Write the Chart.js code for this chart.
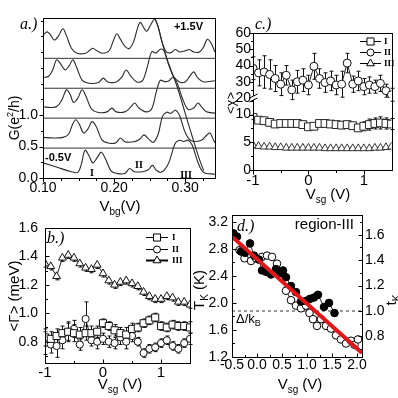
<!DOCTYPE html>
<html>
<head>
<meta charset="utf-8">
<script src="https://cdn.jsdelivr.net/npm/chart.js@4.4.1/dist/chart.umd.min.js"></script>
<style>
html, body { margin: 0; padding: 0; background: #fff; }
#wrap { position: relative; width: 398px; height: 398px; overflow: hidden; }
canvas { position: absolute; left: 0; top: 0; }
</style>
</head>
<body>
<div id="wrap">
  <canvas id="pa" width="398" height="398"></canvas>
  <canvas id="pc" width="398" height="398"></canvas>
  <canvas id="pb" width="398" height="398"></canvas>
  <canvas id="pd" width="398" height="398"></canvas>
</div>
<script>
// ---- panel a : G(Vbg) traces, [Vbg, G] pairs, each trace shifted by its offset
var gOffsets = [0, 0.475, 0.95, 1.425, 1.9];
var gTrace1 = [[0.100,0.24],[0.120,0.17],[0.140,0.10],[0.149,0.09],[0.154,0.22],[0.159,0.44],[0.164,0.37],[0.170,0.24],[0.176,0.32],[0.182,0.41],[0.188,0.30],[0.196,0.11],[0.205,0.07],[0.215,0.07],[0.222,0.15],[0.228,0.10],[0.240,0.10],[0.248,0.13],[0.254,0.20],[0.259,0.13],[0.266,0.09],[0.276,0.22],[0.286,0.55],[0.292,0.60],[0.298,0.58],[0.304,0.60],[0.310,0.52],[0.318,0.25],[0.326,0.09],[0.342,0.06]];
var gTrace2 = [[0.100,0.17],[0.115,0.16],[0.128,0.17],[0.136,0.22],[0.141,0.36],[0.146,0.45],[0.151,0.38],[0.157,0.24],[0.163,0.30],[0.169,0.42],[0.175,0.34],[0.183,0.13],[0.192,0.08],[0.202,0.08],[0.209,0.16],[0.215,0.10],[0.228,0.10],[0.236,0.14],[0.242,0.21],[0.248,0.15],[0.255,0.09],[0.262,0.22],[0.268,0.50],[0.274,0.57],[0.280,0.55],[0.286,0.60],[0.292,0.52],[0.300,0.25],[0.308,0.12],[0.322,0.12],[0.330,0.20],[0.335,0.24],[0.339,0.15],[0.342,0.08]];
var gTrace3 = [[0.100,0.18],[0.112,0.17],[0.120,0.19],[0.127,0.30],[0.133,0.45],[0.138,0.38],[0.143,0.25],[0.149,0.32],[0.155,0.45],[0.160,0.36],[0.168,0.15],[0.178,0.09],[0.190,0.10],[0.197,0.16],[0.203,0.10],[0.215,0.10],[0.223,0.17],[0.229,0.24],[0.235,0.16],[0.245,0.10],[0.253,0.15],[0.259,0.40],[0.265,0.60],[0.271,0.58],[0.277,0.59],[0.283,0.65],[0.289,0.55],[0.296,0.32],[0.304,0.14],[0.312,0.16],[0.318,0.24],[0.323,0.18],[0.330,0.10],[0.342,0.08]];
var gTrace4 = [[0.100,0.17],[0.108,0.19],[0.114,0.30],[0.119,0.45],[0.124,0.40],[0.131,0.29],[0.137,0.36],[0.142,0.45],[0.147,0.34],[0.155,0.13],[0.165,0.08],[0.178,0.09],[0.185,0.16],[0.191,0.10],[0.203,0.10],[0.211,0.18],[0.217,0.29],[0.223,0.20],[0.232,0.10],[0.240,0.12],[0.247,0.35],[0.253,0.58],[0.259,0.56],[0.265,0.62],[0.270,0.60],[0.276,0.40],[0.284,0.18],[0.292,0.10],[0.300,0.10],[0.307,0.20],[0.312,0.26],[0.318,0.16],[0.326,0.10],[0.342,0.12]];
var gTrace5 = [[0.100,0.36],[0.103,0.40],[0.106,0.42],[0.110,0.38],[0.116,0.29],[0.122,0.36],[0.128,0.47],[0.133,0.36],[0.140,0.16],[0.148,0.08],[0.160,0.08],[0.166,0.13],[0.170,0.16],[0.176,0.12],[0.184,0.08],[0.193,0.12],[0.199,0.28],[0.204,0.39],[0.209,0.30],[0.216,0.18],[0.222,0.16],[0.228,0.28],[0.233,0.48],[0.237,0.57],[0.242,0.48],[0.246,0.43],[0.251,0.52],[0.257,0.62],[0.262,0.50],[0.268,0.24],[0.274,0.10],[0.280,0.09],[0.286,0.14],[0.292,0.10],[0.300,0.12],[0.306,0.14],[0.312,0.10],[0.320,0.10],[0.326,0.18],[0.331,0.30],[0.336,0.25],[0.342,0.10]];
// steep falling tail running down through the stack (plotted value, no offset)
var gTail = [[0.258,2.52],[0.262,2.40],[0.268,2.14],[0.275,1.87],[0.289,1.44],[0.300,1.03],[0.311,0.62],[0.320,0.30],[0.326,0.12]];
var aXLabels = [0.10, 0.20, 0.30];
var aYLabels = [0.0, 0.5, 1.0];

// ---- panels b and c : side gate sweep
var vsg = [-1.0,-0.9,-0.8,-0.7,-0.6,-0.5,-0.4,-0.3,-0.2,-0.1,0.0,0.1,0.2,0.3,0.4,0.5,0.6,0.7,0.8,0.9,1.0,1.1,1.2,1.3,1.4,1.5];
var gammaI   = [0.83,0.82,0.84,0.86,0.87,0.86,0.85,0.86,0.86,0.87,0.93,0.91,0.88,0.86,0.85,0.89,0.90,0.93,0.95,0.97,0.91,0.90,0.92,0.91,0.91,0.90];
var gammaII  = [0.79,0.78,0.77,0.81,0.87,0.89,0.78,0.96,0.81,0.80,0.82,0.80,0.79,0.83,0.80,0.84,0.80,0.72,0.75,0.76,0.79,0.81,0.77,0.75,0.79,0.82];
var gammaIII = [1.35,1.33,1.26,1.39,1.41,1.39,1.35,1.32,1.31,1.34,1.28,1.23,1.20,1.22,1.23,1.21,1.19,1.15,1.12,1.10,1.10,1.12,1.11,1.08,1.08,1.06];
var gammaErrI   = [0.06,0.05,0.05,0.05,0.06,0.06,0.05,0.05,0.05,0.04,0.03,0.03,0.04,0.04,0.05,0.04,0.03,0.03,0.03,0.03,0.03,0.03,0.03,0.03,0.03,0.04];
var gammaErrII  = [0.08,0.06,0.08,0.06,0.07,0.06,0.04,0.12,0.04,0.05,0.04,0.04,0.04,0.05,0.05,0.04,0.03,0.03,0.03,0.03,0.03,0.03,0.03,0.03,0.03,0.04];
var gammaErrIII = [0.025,0.025,0.025,0.025,0.025,0.025,0.025,0.025,0.025,0.025,0.025,0.025,0.025,0.025,0.025,0.025,0.025,0.025,0.025,0.025,0.025,0.025,0.025,0.025,0.025,0.025];
var chiI   = [9.5,9.0,8.9,8.6,8.3,8.4,8.4,8.4,8.4,8.2,7.8,7.9,8.4,8.4,8.3,8.2,8.1,8.2,8.0,7.6,7.9,8.2,8.4,8.5,8.4,8.3];
var chiII  = [38.3,35.5,36,34.5,32,28.5,34,25,30,31,28,39.5,32,29.5,30.5,28,28.5,41.5,28.5,30.5,27,28,27,29,24.5,22];
var chiIII = [4.5,4.3,4.2,4.2,4.1,4.1,4.0,4.0,4.0,4.0,4.0,4.0,4.0,3.9,3.9,3.9,3.9,3.9,3.9,3.9,3.9,3.9,4.0,4.0,4.1,4.2];
var chiErrI  = [0.4,0.3,0.3,0.3,0.3,0.3,0.3,0.3,0.3,0.3,0.3,0.3,0.3,0.3,0.3,0.3,0.3,0.3,0.4,0.5,0.8,1.0,1.0,1.1,1.0,1.0];
var chiErrII = [7,8,10,9,8,7,6,6,7,7,6,8,6,6,6,6,8,6,5,6,5,5,4,5,4,4];

// ---- panel d : region III Kondo temperature
var deltaKB = 1.88;
var tkFilledX = [-0.47,-0.40,-0.32,-0.24,-0.14,-0.06,0.04,0.10,0.18,0.28,0.38,0.46,0.52,0.58,0.68,0.78,0.88,0.98,1.06,1.14,1.22,1.34,1.44,1.55];
var tkFilledY = [3.03,2.98,2.76,2.74,2.88,2.70,2.64,2.48,2.46,2.42,2.50,2.44,2.48,2.38,2.25,2.16,2.02,2.03,2.06,2.08,2.12,1.94,2.00,1.85];
var tkOpenX = [-0.35,-0.25,-0.12,-0.02,0.10,0.20,0.30,0.40,0.50,0.58,0.68,0.78,0.88,0.98,1.05,1.12,1.20,1.28,1.38,1.48,1.58,1.68,1.78,1.88,1.95,2.02];
var tkOpenY = [2.78,2.66,2.62,2.66,2.68,2.70,2.68,2.58,2.44,2.18,2.04,1.96,1.92,1.96,1.85,1.76,1.66,1.76,1.66,1.62,1.52,1.46,1.40,1.44,1.38,1.46];
var tkFitX = [-0.5, 2.1];
var tkFitY = [2.98, 1.26];

// ---------------------------------------------------------------
Chart.defaults.font.family = 'Liberation Sans';
Chart.defaults.color = '#000';

var AXW = 30, AXH = 20;
function place(l, t, r, b, rightAxis) {
  return { left: l - AXW, top: t, right: 398 - r - (rightAxis ? AXW : 0), bottom: 398 - b - AXH };
}
function fix(s) { if (s.isHorizontal()) s.height = AXH; else s.width = AXW; }
function near(list, v) { return list.some(function (l) { return Math.abs(l - v) < 1e-6; }); }

function axis(min, max, step, labels, digits, size, pad, extra) {
  var a = {
    type: 'linear', min: min, max: max,
    ticks: {
      stepSize: step, autoSkip: false, maxRotation: 0, padding: pad, maxTicksLimit: 1000,
      includeBounds: false,
      font: { size: size }, color: '#000',
      callback: function (v) { return near(labels, v) ? v.toFixed(digits) : ''; }
    },
    grid: { display: false, drawTicks: false },
    border: { display: false },
    afterFit: fix
  };
  return Object.assign(a, extra || {});
}

function pairs(xs, ys) { return xs.map(function (x, i) { return { x: x, y: ys[i] }; }); }

function marker(ctx, style, x, y, r) {
  ctx.beginPath();
  if (style === 'rect') { var s = r * Math.SQRT1_2; ctx.rect(x - s, y - s, 2 * s, 2 * s); }
  else if (style === 'triangle') {
    ctx.moveTo(x, y - r); ctx.lineTo(x + r * 0.866, y + r * 0.5); ctx.lineTo(x - r * 0.866, y + r * 0.5); ctx.closePath();
  } else ctx.arc(x, y, r, 0, Math.PI * 2);
  ctx.fill(); ctx.stroke();
}

function drawText(ctx, t) {
  ctx.save();
  ctx.translate(t.x, t.y);
  if (t.rot) ctx.rotate(t.rot * Math.PI / 180);
  ctx.fillStyle = '#000';
  ctx.textBaseline = 'alphabetic';
  ctx.textAlign = 'left';
  var fam = t.family || 'Liberation Sans';
  var f = function (p) { return (t.style || 'normal') + ' ' + (t.weight || 'normal') + ' ' + p[1] + 'px "' + fam + '"'; };
  var w = 0;
  t.parts.forEach(function (p) { ctx.font = f(p); w += ctx.measureText(p[0]).width; });
  var x = t.align === 'left' ? 0 : (t.align === 'right' ? -w : -w / 2);
  t.parts.forEach(function (p) { ctx.font = f(p); ctx.fillText(p[0], x, p[2] || 0); x += ctx.measureText(p[0]).width; });
  ctx.restore();
}

// frame, ticks, error bars, legends and labels
var framePlugin = {
  id: 'frame',
  beforeDatasetsDraw: function (chart) {
    var ctx = chart.ctx;
    chart.data.datasets.forEach(function (ds, i) {
      if (!ds.errs) return;
      var meta = chart.getDatasetMeta(i);
      var ys = chart.scales[meta.yAxisID];
      ctx.save();
      ctx.strokeStyle = '#111'; ctx.lineWidth = 1;
      meta.data.forEach(function (pt, j) {
        var v = ds.data[j].y, e = ds.errs[j];
        var top = ys.getPixelForValue(ds.errDown ? v : v + e);
        var bot = ys.getPixelForValue(v - e);
        var px = Math.round(pt.x) + 0.5;
        ctx.beginPath();
        ctx.moveTo(px, top); ctx.lineTo(px, bot);
        if (!ds.errDown) { ctx.moveTo(px - 2, top); ctx.lineTo(px + 2, top); }
        ctx.moveTo(px - 2, bot); ctx.lineTo(px + 2, bot);
        ctx.stroke();
      });
      ctx.restore();
    });
  },
  afterDraw: function (chart, args, o) {
    var ctx = chart.ctx, ca = chart.chartArea;
    ctx.save();
    ctx.strokeStyle = '#000'; ctx.lineWidth = 1;
    ctx.strokeRect(Math.round(ca.left) + 0.5, Math.round(ca.top) + 0.5, Math.round(ca.right - ca.left), Math.round(ca.bottom - ca.top));
    // tick marks
    Object.keys(chart.scales).forEach(function (id) {
      var s = chart.scales[id];
      s.ticks.forEach(function (t) {
        var major = t.label !== '';
        if (!major && (Math.abs(t.value - s.min) < 1e-9 || Math.abs(t.value - s.max) < 1e-9)) return;
        var len = major ? 4 : 2.5;
        var p = Math.round(s.getPixelForValue(t.value)) + 0.5;
        ctx.beginPath();
        if (s.isHorizontal()) {
          var y0 = Math.round(ca.bottom) + 0.5;
          ctx.moveTo(p, y0); ctx.lineTo(p, y0 + (o.inward ? -len : len));
        } else if (s.position === 'left') {
          var x0 = Math.round(ca.left) + 0.5;
          ctx.moveTo(x0, p); ctx.lineTo(x0 + (o.inward ? len : -len), p);
        } else {
          var x1 = Math.round(ca.right) + 0.5;
          ctx.moveTo(x1, p); ctx.lineTo(x1 + (o.inward ? -len : len), p);
        }
        ctx.stroke();
      });
    });
    // axis break
    if (o.breakAxis) {
      var yb = Math.round(chart.scales[o.breakAxis].bottom);
      var xl = Math.round(ca.left) + 0.5;
      ctx.fillStyle = '#fff';
      ctx.fillRect(xl - 3, yb - 2, 6, 4);
      ctx.beginPath();
      ctx.moveTo(xl - 4, yb); ctx.lineTo(xl + 4, yb - 4);
      ctx.moveTo(xl - 4, yb + 4); ctx.lineTo(xl + 4, yb);
      ctx.stroke();
    }
    // legend
    if (o.legend) {
      var lg = o.legend;
      lg.rows.forEach(function (r) {
        ctx.strokeStyle = '#000'; ctx.lineWidth = r.lw || 1;
        ctx.beginPath(); ctx.moveTo(lg.x1, r.y + 0.5); ctx.lineTo(lg.x2, r.y + 0.5); ctx.stroke();
        ctx.lineWidth = 1; ctx.fillStyle = '#fff';
        marker(ctx, r.style, (lg.x1 + lg.x2) / 2, r.y + 0.5, r.r);
        ctx.fillStyle = '#000';
        ctx.font = lg.font; ctx.textBaseline = 'middle'; ctx.textAlign = 'left';
        ctx.fillText(r.label, lg.labelX, r.y + 1);
      });
    }
    ctx.restore();
    (o.texts || []).forEach(function (t) { drawText(ctx, t); });
  }
};

function lineSet(data, extra) {
  return Object.assign({
    data: data, borderColor: '#222', backgroundColor: '#fff', borderWidth: 1,
    pointRadius: 0, tension: 0, fill: false
  }, extra || {});
}

function makeChart(id, sets, padding, scales, frame) {
  return new Chart(document.getElementById(id), {
    type: 'line',
    data: { datasets: sets },
    options: {
      responsive: false, animation: false, devicePixelRatio: 1, events: [],
      layout: { padding: padding },
      scales: scales,
      plugins: { legend: { display: false }, tooltip: { enabled: false }, frame: frame }
    },
    plugins: [framePlugin]
  });
}

// ---------------- panel a
(function () {
  var traces = [gTrace1, gTrace2, gTrace3, gTrace4, gTrace5];
  var sets = [];
  traces.forEach(function (tr, k) {
    sets.push(lineSet(tr.map(function (p) { return { x: p[0], y: p[1] + gOffsets[k] }; }),
      { borderColor: '#2a2a2a', borderWidth: 1.1, tension: 0.35 }));
  });
  sets.push(lineSet(gTail.map(function (p) { return { x: p[0], y: p[1] }; }), { borderColor: '#2a2a2a', borderWidth: 1.1, tension: 0.3 }));
  gOffsets.slice(1).forEach(function (off) {
    sets.push(lineSet([{ x: 0.10, y: off }, { x: 0.342, y: off }], { borderColor: '#333', borderWidth: 1 }));
  });
  makeChart('pa', sets, place(43, 18, 215, 178), {
    x: axis(0.10, 0.342, 0.025, aXLabels, 2, 14, 2),
    y: axis(0, 2.54, 0.25, aYLabels, 1, 14, 5)
  }, {
    inward: false,
    texts: [
      { x: 20, y: 29, parts: [['a.)', 16]], family: 'Liberation Serif', style: 'italic', align: 'left' },
      { x: 203, y: 30, parts: [['+1.5V', 11]], weight: 'bold', align: 'right' },
      { x: 45, y: 161, parts: [['-0.5V', 11]], weight: 'bold', align: 'left' },
      { x: 92, y: 176, parts: [['I', 10]], family: 'Liberation Serif', weight: 'bold' },
      { x: 139, y: 168, parts: [['II', 10]], family: 'Liberation Serif', weight: 'bold' },
      { x: 186, y: 178, parts: [['III', 10]], family: 'Liberation Serif', weight: 'bold' },
      { x: 120, y: 211, parts: [['V', 15], ['bg', 10, 4], ['(V)', 15]] },
      { x: 19, y: 118, rot: -90, parts: [['G(e', 14], ['2', 9, -6], ['/h)', 14]] }
    ]
  });
})();

// ---------------- panel c
(function () {
  var sets = [
    lineSet(pairs(vsg, chiII), { yAxisID: 'yHigh', pointStyle: 'circle', pointRadius: 4, pointBorderColor: '#111', pointBackgroundColor: '#fff', errs: chiErrII }),
    lineSet(pairs(vsg, chiI), { yAxisID: 'yLow', pointStyle: 'rect', pointRadius: 5.5, pointBorderColor: '#222', pointBackgroundColor: '#fff', errs: chiErrI }),
    lineSet(pairs(vsg, chiIII), { yAxisID: 'yLow', pointStyle: 'triangle', pointRadius: 4.5, pointBorderColor: '#333', pointBackgroundColor: '#fff' })
  ];
  makeChart('pc', sets, place(253, 33, 397, 170), {
    x: axis(-1, 1.5, 0.5, [-1, 0, 1], 0, 15, 2),
    yLow: axis(0, 13, 2.5, [0, 5, 10], 0, 14, 2, { position: 'left', stack: 'chi', stackWeight: 72 }),
    yHigh: axis(20, 60, 5, [20, 30, 40, 50, 60], 0, 14, 2, { position: 'left', stack: 'chi', stackWeight: 65 })
  }, {
    inward: false,
    breakAxis: 'yHigh',
    legend: {
      x1: 360, x2: 381, labelX: 384, font: 'bold 9px "Liberation Serif"',
      rows: [
        { y: 41, label: 'I', style: 'rect', r: 5 },
        { y: 52, label: 'II', style: 'circle', r: 3.5 },
        { y: 63, label: 'III', style: 'triangle', r: 4.5 }
      ]
    },
    texts: [
      { x: 255, y: 29, parts: [['c.)', 16]], family: 'Liberation Serif', style: 'italic', align: 'left' },
      { x: 235, y: 103, rot: -90, parts: [['<\u03c7>', 13]] },
      { x: 328, y: 199, parts: [['V', 15], ['sg', 10, 4], [' (V)', 15]] }
    ]
  });
})();

// ---------------- panel b
(function () {
  var sets = [
    lineSet(pairs(vsg, gammaIII), { pointStyle: 'triangle', pointRadius: 4.5, pointBorderColor: '#111', pointBackgroundColor: '#fff', errs: gammaErrIII, errDown: true }),
    lineSet(pairs(vsg, gammaI), { pointStyle: 'rect', pointRadius: 5, pointBorderColor: '#111', pointBackgroundColor: '#fff', errs: gammaErrI }),
    lineSet(pairs(vsg, gammaII), { pointStyle: 'circle', pointRadius: 3.6, pointBorderColor: '#111', pointBackgroundColor: '#fff', errs: gammaErrII })
  ];
  makeChart('pb', sets, place(45, 228, 190, 363), {
    x: axis(-1, 1.5, 0.5, [-1, 0, 1], 0, 15, 1),
    y: axis(0.65, 1.6, 0.1, [0.8, 1.0, 1.2, 1.4, 1.6], 1, 14, 7)
  }, {
    inward: true,
    legend: {
      x1: 146, x2: 168, labelX: 172, font: 'bold 9px "Liberation Serif"',
      rows: [
        { y: 237, label: 'I', style: 'rect', r: 5 },
        { y: 249, label: 'II', style: 'circle', r: 3.5 },
        { y: 260, label: 'III', style: 'triangle', r: 4.5, lw: 2 }
      ]
    },
    texts: [
      { x: 47, y: 243, parts: [['b.)', 16]], family: 'Liberation Serif', style: 'italic', align: 'left' },
      { x: 19, y: 296, rot: -90, parts: [['<\u0393> (meV)', 15]] },
      { x: 120, y: 389, parts: [['V', 15], ['sg', 10, 4], [' (V)', 15]] }
    ]
  });
})();

// ---------------- panel d
(function () {
  var sets = [
    lineSet(pairs(tkFitX, tkFitY), { borderColor: '#e3161b', borderWidth: 4 }),
    lineSet(pairs(tkFilledX, tkFilledY), { pointStyle: 'circle', pointRadius: 3.8, pointBorderColor: '#000', pointBackgroundColor: '#000' }),
    lineSet(pairs(tkOpenX, tkOpenY), { pointStyle: 'circle', pointRadius: 3.8, pointBorderColor: '#000', pointBackgroundColor: '#fff' }),
    lineSet([{ x: -0.5, y: deltaKB }, { x: 2.1, y: deltaKB }], { borderColor: '#333', borderDash: [3, 3] })
  ];
  makeChart('pd', sets, place(232, 215, 362, 357, true), {
    x: axis(-0.5, 2.1, 0.25, [-0.5, 0, 0.5, 1, 1.5, 2], 1, 14, 0),
    y: axis(1.2, 3.3, 0.2, [1.2, 1.6, 2.0, 2.4, 2.8, 3.2], 1, 14, 4),
    y1: axis(1.2 / deltaKB, 3.3 / deltaKB, 0.1, [0.8, 1.0, 1.2, 1.4, 1.6], 1, 14, 3, { position: 'right' })
  }, {
    inward: true,
    texts: [
      { x: 237, y: 231, parts: [['d.)', 16]], family: 'Liberation Serif', style: 'italic', align: 'left' },
      { x: 354, y: 229, parts: [['region-III', 15]], align: 'right' },
      { x: 236, y: 323, parts: [['\u0394/k', 13], ['B', 9, 3]], align: 'left' },
      { x: 204, y: 290, rot: -90, parts: [['T', 15], ['K', 10, 4], [' (K)', 15]] },
      { x: 396, y: 300, rot: -90, parts: [['t', 15], ['K', 10, 4]] },
      { x: 300, y: 389, parts: [['V', 15], ['sg', 10, 4], [' (V)', 15]] }
    ]
  });
})();
</script>
</body>
</html>
